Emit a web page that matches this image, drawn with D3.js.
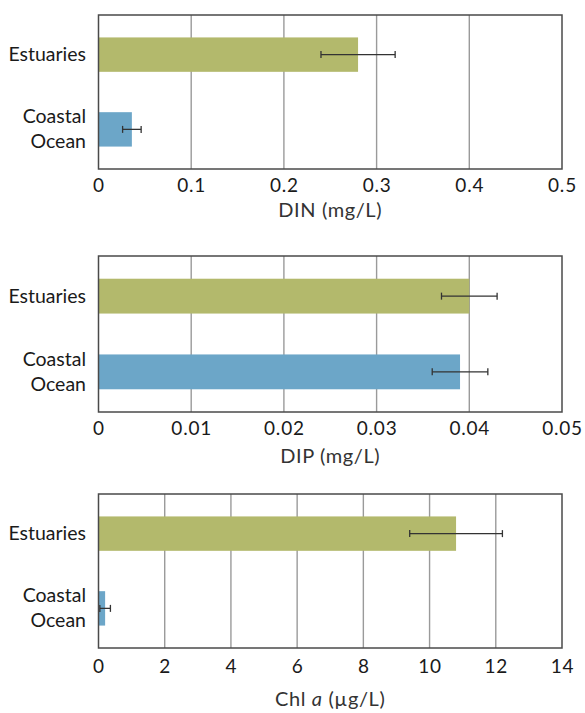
<!DOCTYPE html>
<html>
<head>
<meta charset="utf-8">
<script src="https://cdn.jsdelivr.net/npm/d3@7"></script>
<style>
  html, body { margin: 0; padding: 0; background: #fff; }
  svg { display: block; font-family: Lato, "Open Sans", sans-serif; }
</style>
</head>
<body>
<svg id="chart" width="585" height="713"></svg>
<script>
// ---- data ----
const categories = ["Estuaries", "Coastal Ocean"];
const categoryLines = [["Estuaries"], ["Coastal", "Ocean"]];
const barColors = ["#b3b96c", "#6ca6c8"];

const dinValues = [0.28, 0.036];
const dinErrors = [0.04, 0.010];
const dinTicks = [0, 0.1, 0.2, 0.3, 0.4, 0.5];
const dinTickLabels = ["0", "0.1", "0.2", "0.3", "0.4", "0.5"];

const dipValues = [0.040, 0.039];
const dipErrors = [0.003, 0.003];
const dipTicks = [0, 0.01, 0.02, 0.03, 0.04, 0.05];
const dipTickLabels = ["0", "0.01", "0.02", "0.03", "0.04", "0.05"];

const chlValues = [10.8, 0.2];
const chlErrors = [1.4, 0.16];
const chlTicks = [0, 2, 4, 6, 8, 10, 12, 14];
const chlTickLabels = ["0", "2", "4", "6", "8", "10", "12", "14"];

const panels = [
  { values: dinValues, errors: dinErrors, ticks: dinTicks, labels: dinTickLabels,
    max: 0.5, title: [["DIN (mg/L)", false]], top: 15, height: 154, tickDy: 23, titleDy: 48 },
  { values: dipValues, errors: dipErrors, ticks: dipTicks, labels: dipTickLabels,
    max: 0.05, title: [["DIP (mg/L)", false]], top: 256, height: 156, tickDy: 22.5, titleDy: 51 },
  { values: chlValues, errors: chlErrors, ticks: chlTicks, labels: chlTickLabels,
    max: 14, title: [["Chl ", false], ["a", true], [" (µg/L)", false]], top: 494, height: 154, tickDy: 25, titleDy: 58 }
];

// ---- layout ----
const left = 98.5, right = 562;
const svg = d3.select("#chart");

panels.forEach(p => {
  const g = svg.append("g");
  const x = d3.scaleLinear().domain([0, p.max]).range([left, right]);
  const y = d3.scaleBand().domain(categories)
    .range([p.top, p.top + p.height]).paddingInner(0.54).paddingOuter(0.3);
  const bottom = p.top + p.height;

  // gridlines
  g.append("g").selectAll("line").data(p.ticks.slice(1, -1)).join("line")
    .attr("x1", d => x(d)).attr("x2", d => x(d))
    .attr("y1", p.top).attr("y2", bottom)
    .attr("stroke", "#9a9a9a").attr("stroke-width", 1.4);

  // bars
  g.append("g").selectAll("rect").data(categories).join("rect")
    .attr("x", x(0)).attr("y", d => y(d))
    .attr("width", (d, i) => x(p.values[i]) - x(0))
    .attr("height", y.bandwidth())
    .attr("fill", (d, i) => barColors[i]);

  // error bars
  const eg = g.append("g").attr("stroke", "#333").attr("stroke-width", 1.3);
  categories.forEach((c, i) => {
    const cy = y(c) + y.bandwidth() / 2;
    const lo = x(Math.max(0, p.values[i] - p.errors[i]));
    const hi = x(p.values[i] + p.errors[i]);
    eg.append("line").attr("x1", lo).attr("x2", hi).attr("y1", cy).attr("y2", cy);
    eg.append("line").attr("x1", lo).attr("x2", lo).attr("y1", cy - 3.5).attr("y2", cy + 3.5);
    eg.append("line").attr("x1", hi).attr("x2", hi).attr("y1", cy - 3.5).attr("y2", cy + 3.5);
  });

  // frame
  g.append("rect").attr("x", left).attr("y", p.top)
    .attr("width", right - left).attr("height", p.height)
    .attr("fill", "none").attr("stroke", "#4a4a4a").attr("stroke-width", 1.5);

  // x axis tick labels
  const axis = d3.axisBottom(x).tickValues(p.ticks)
    .tickFormat((d, i) => p.labels[i]).tickSize(0).tickPadding(0);
  const ag = g.append("g").attr("transform", `translate(0,${bottom})`).call(axis);
  ag.select(".domain").remove();
  ag.selectAll("text").attr("dy", null).attr("y", p.tickDy)
    .attr("font-family", "Lato, 'Open Sans', sans-serif")
    .attr("font-size", 19).attr("letter-spacing", 0.8).attr("fill", "#1a1a1a");

  // axis title
  const t = g.append("text").attr("x", (left + right) / 2).attr("y", bottom + p.titleDy)
    .attr("text-anchor", "middle").attr("font-size", 20).attr("letter-spacing", 0.6)
    .attr("fill", "#333");
  p.title.forEach(([s, it]) => {
    t.append("tspan").text(s).attr("font-style", it ? "italic" : "normal");
  });

  // category labels
  categories.forEach((c, i) => {
    const lines = categoryLines[i];
    const cy = y(c) + y.bandwidth() / 2;
    const lh = 25;
    lines.forEach((ln, j) => {
      g.append("text").attr("x", 86).attr("text-anchor", "end")
        .attr("y", cy + (j - (lines.length - 1) / 2) * lh + 6.5)
        .attr("font-size", 19.5).attr("fill", "#1a1a1a").text(ln);
    });
  });
});
</script>
</body>
</html>
